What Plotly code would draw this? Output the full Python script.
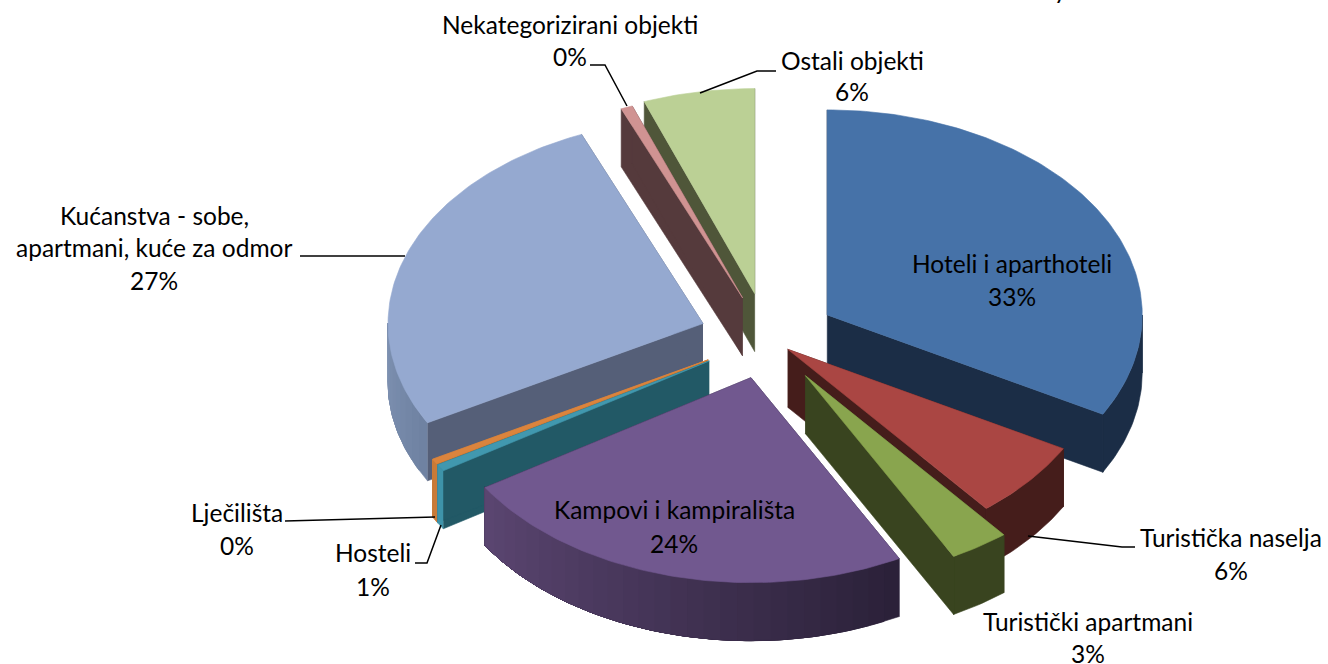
import numpy as np
import plotly.graph_objects as go

# ---- data ----
categories = ["Hoteli i aparthoteli", "Turistička naselja", "Turistički apartmani",
              "Kampovi i kampirališta", "Hosteli", "Lječilišta",
              "Kućanstva - sobe, apartmani, kuće za odmor",
              "Nekategorizirani objekti", "Ostali objekti"]
values = [33.05, 6.1, 3.05, 23.8, 0.55, 0.4, 26.75, 0.6, 5.7]
explode = [0.222, 0.086, 0.22, 0.2, 0.215, 0.215, 0.215, 0.21, 0.22]
top_colors = ["#4672A8", "#AA4643", "#89A54E", "#71588F", "#4198AF", "#DB843D", "#95A9D0", "#D09392", "#BBD095"]
cut_colors = ["#1B2D46", "#451D1B", "#39441F", "#2D233F", "#225966", "#C97B38", "#555F78", "#553A3C", "#4F5639"]
arc_start_colors = ["#1B2D46", "#451D1B", "#39441F", "#2B2139", "#3E93A9", "#C97B38", "#6F82A2", "#553A3C", "#4F5639"]
arc_end_colors = ["#1B2D46", "#451D1B", "#39441F", "#5A4570", "#3E93A9", "#C97B38", "#7E91B1", "#553A3C", "#4F5639"]
# paint order, back to front
paint_order = [8, 7, 6, 0, 5, 4, 3, 1, 2]

# ---- projection of the pie ----
CX, CY, RX, RY, DEPTH = 767, 338, 315, 205, 58

labels = [("Nekategorizirani objekti", 570, 24), ("0%", 570, 56),
          ("Ostali objekti", 852, 60), ("6%", 852, 91),
          ("Hoteli i aparthoteli", 1012, 263), ("33%", 1012, 296),
          ("Turistička naselja", 1231, 537), ("6%", 1231, 570),
          ("Turistički apartmani", 1088, 621), ("3%", 1088, 653),
          ("Kampovi i kampirališta", 674, 509), ("24%", 674, 543),
          ("Hosteli", 373, 552), ("1%", 373, 586),
          ("Lječilišta", 237, 512), ("0%", 237, 545),
          ("Kućanstva - sobe,", 154, 215), ("apartmani, kuće za odmor", 154, 247), ("27%", 154, 280),
          ("y", 1060, -11)]
leaders = [([590, 605, 627], [65, 65, 106]),
           ([700, 757, 776], [93, 71, 71]),
           ([300, 405], [256, 256]),
           ([285, 435], [521, 517]),
           ([415, 427, 441], [563, 563, 525]),
           ([1028, 1122, 1135], [536, 547, 547])]

FONT = "Lato"
FONT_SIZE = 24.5


def hex_rgb(c):
    return np.array([int(c[i:i + 2], 16) for i in (1, 3, 5)], dtype=float)


def mix(a, b, t):
    r = hex_rgb(a) * (1 - t) + hex_rgb(b) * t
    return "rgb(%d,%d,%d)" % tuple(np.round(r))


def poly(fig, xs, ys, color):
    fig.add_trace(go.Scatter(x=list(xs), y=list(ys), mode="lines", fill="toself", fillcolor=color,
                             line=dict(color=color, width=0.6), hoverinfo="skip", showlegend=False))


fig = go.Figure()
edges = np.cumsum([0] + values) / sum(values) * 2 * np.pi

for i in paint_order:
    a0, a1 = edges[i], edges[i + 1]
    mid = (a0 + a1) / 2
    ax = CX + explode[i] * RX * np.sin(mid)
    ay = CY - explode[i] * RY * np.cos(mid)
    px = lambda t: ax + RX * np.sin(t)
    py = lambda t: ay - RY * np.cos(t)

    # radial cut faces
    for a in (a0, a1):
        poly(fig, [ax, px(a), px(a), ax], [ay, py(a), py(a) + DEPTH, ay + DEPTH], cut_colors[i])

    # front rim: each strip runs to the far end and the next paints over it, so no seams show
    lo, hi = max(a0, np.pi / 2), min(a1, 3 * np.pi / 2)
    if hi > lo:
        n = 1 if arc_start_colors[i] == arc_end_colors[i] else max(2, int((hi - lo) / np.radians(3)))
        ts = np.linspace(lo, hi, n + 1)
        for k in range(n):
            seg = np.linspace(ts[k], hi, max(4, int((hi - ts[k]) / np.radians(1)) + 2))
            color = mix(arc_start_colors[i], arc_end_colors[i], k / max(1, n - 1))
            poly(fig,
                 list(px(seg)) + list(px(seg[::-1])),
                 list(py(seg)) + list(py(seg[::-1]) + DEPTH),
                 color)
        # close the hairline where a cut face meets a rim of the same colour
        if arc_start_colors[i] == cut_colors[i]:
            for a in (lo, hi):
                fig.add_trace(go.Scatter(x=[px(a), px(a)], y=[py(a), py(a) + DEPTH], mode="lines",
                                         line=dict(color=cut_colors[i], width=1.2),
                                         hoverinfo="skip", showlegend=False))

    # top face
    ts = np.linspace(a0, a1, max(3, int((a1 - a0) / np.radians(1)) + 2))
    poly(fig, [ax] + list(px(ts)) + [ax], [ay] + list(py(ts)) + [ay], top_colors[i])

for lx, ly in leaders:
    fig.add_trace(go.Scatter(x=lx, y=ly, mode="lines", line=dict(color="black", width=1.5),
                             hoverinfo="skip", showlegend=False))

for text, x, y in labels:
    fig.add_annotation(x=x, y=max(y, 0), yshift=-min(y, 0), text=text, showarrow=False,
                       xanchor="center", yanchor="middle",
                       font=dict(family=FONT, size=FONT_SIZE, color="black"))

fig.update_layout(width=1328, height=664, margin=dict(l=0, r=0, t=0, b=0),
                  paper_bgcolor="white", plot_bgcolor="white", showlegend=False,
                  xaxis=dict(range=[0, 1328], visible=False, fixedrange=True),
                  yaxis=dict(range=[664, 0], visible=False, fixedrange=True))
fig.write_html("out.html", config=dict(displayModeBar=False),
               post_script="document.body.style.margin='0';")
